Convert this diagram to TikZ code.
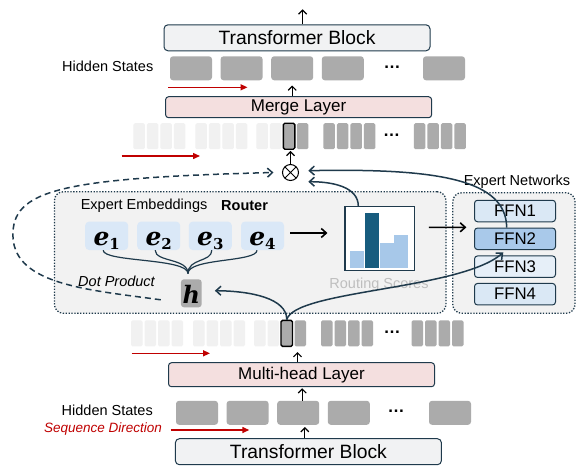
\RequirePackage{fix-cm}
\documentclass[tikz,border=0pt]{standalone}
\usepackage{amsmath,amssymb}
\usepackage{xcolor}
\usepackage[no-math]{fontspec}
\setmainfont{Liberation Sans}
\newfontfamily\embfont{DejaVu Serif}
\usetikzlibrary{shapes,arrows,positioning,calc,arrows.meta}

\definecolor{slate}{HTML}{1F3A4C}
\definecolor{blockgray}{HTML}{F1F2F3}
\definecolor{layerpink}{HTML}{F4DFDF}
\definecolor{stategray}{HTML}{ABABAB}
\definecolor{tokenlight}{HTML}{F1F1F1}
\definecolor{seqred}{HTML}{C00000}
\definecolor{embblue}{HTML}{DAE8F7}
\definecolor{ffnblue}{HTML}{DAE8F5}
\definecolor{ffnsel}{HTML}{A9C9EA}
\definecolor{ffnpale}{HTML}{E6EFF8}
\definecolor{barlight}{HTML}{A7C8E9}
\definecolor{bardark}{HTML}{175C7E}
\definecolor{panelgray}{HTML}{F2F2F2}
\definecolor{scoregray}{HTML}{BEBEBE}

\newcommand{\embvec}[2]{{\embfont\bfseries\itshape #1}\raisebox{-4.5pt}{\embfont\bfseries\fontsize{15}{15}\selectfont #2}}

\tikzset{
  block/.style={draw=slate, line width=1pt, rounded corners=4pt, fill=blockgray, minimum width=266pt, minimum height=26pt, inner sep=0pt, font=\fontsize{19.3}{22}\selectfont},
  layerbox/.style={draw=slate, line width=1pt, rounded corners=3pt, fill=layerpink, minimum width=266pt, minimum height=21pt, inner sep=0pt, font=\fontsize{17}{20}\selectfont},
  hstate/.style={fill=stategray, rounded corners=3pt, minimum width=42pt, minimum height=24pt, inner sep=0pt},
  token/.style={rounded corners=1.5pt, minimum width=11.5pt, minimum height=26pt, inner sep=0pt},
  seltok/.style={token, fill=stategray, draw=black, line width=1.4pt},
  lbl/.style={font=\fontsize{14.5}{17}\selectfont, inner sep=0pt},
  ellip/.style={font=\fontsize{17}{17}\selectfont\bfseries, inner sep=0pt},
  embed/.style={fill=embblue, rounded corners=4pt, minimum width=43pt, minimum height=28.5pt, inner sep=0pt, text height=20pt, text depth=1.5pt, font=\fontsize{25}{25}\selectfont},
  ffn/.style={draw=slate, line width=1pt, rounded corners=3pt, minimum width=81pt, minimum height=21.5pt, inner sep=0pt, font=\fontsize{16.8}{18}\selectfont},
  panel/.style={draw=slate, line width=1.3pt, dash pattern=on 1.3pt off 1.6pt, rounded corners=9pt, fill=panelgray, inner sep=0pt},
  up/.style={-{Straight Barb[length=4pt,width=8pt]}, line width=1.2pt},
  seq/.style={-{Triangle[length=7pt,width=6pt]}, seqred, line width=1.4pt},
  route/.style={-{Straight Barb[length=5pt,width=9pt]}, slate, line width=1.5pt},
  flow/.style={-{Straight Barb[length=5pt,width=9pt]}, line width=1.6pt},
}

\begin{document}
\begin{tikzpicture}[x=1pt, y=-1pt]
    \path[use as bounding box, fill=white] (0,0) rectangle (586,472);

    \node[panel, minimum width=391.6pt, minimum height=121.6pt] (router) at (250.2,252.5) {};
    \node[panel, minimum width=122.3pt, minimum height=120.6pt] (experts) at (513.9,253) {};

    \node[block] (topblock) at (297,37.8) {Transformer Block};
    \coordinate (out) at (302.6,9.3);
    \draw[up] (out |- topblock.north) -- (out);

    \node[lbl, anchor=east] (tophs) at (153.5,66) {Hidden States};
    \foreach \i in {0,1,2,3,5}
        \node[hstate] (ts\i) at (191+50.6*\i,68.3) {};
    \node[ellip] (tsdots) at (392,67) {\ldots};
    \draw[seq] (168,87.3) -- (247.5,87.3);

    \node[layerbox] (merge) at (298.6,107.2) {Merge Layer};
    \draw[up] (merge.north -| ts2) -- ([yshift=-5pt]ts2.south);

    \foreach \g/\gx in {0/131,1/193,2/254,3/321,4/411.5}
        \foreach \j in {0,...,3} {
            \pgfmathtruncatemacro\n{4*\g+\j}
            \ifnum\n<10 \def\tc{tokenlight}\else\def\tc{stategray}\fi
            \node[token, fill=\tc] (tt\n) at (\gx+5.75+13.5*\j+2.3,136.2) {};
            \node[token, fill=\tc] (bt\n) at (\gx+5.75+13.5*\j,333.3) {};
        }
    \node[seltok] (topsel) at (tt10) {};
    \node[seltok] (botsel) at (bt10) {};
    \node[ellip] (ttdots) at (391.7,135) {\ldots};
    \node[ellip] (btdots) at (392,332) {\ldots};
    \draw[seq] (121.7,156) -- (200,156);
    \draw[seq] (131.7,353.3) -- (210,353.3);

    \node[draw, circle, line width=1pt, minimum size=16pt, inner sep=0pt,
        path picture={\draw[line width=1pt] (path picture bounding box.north west) -- (path picture bounding box.south east)
            (path picture bounding box.north east) -- (path picture bounding box.south west);}] (mult) at (290.5,172.5) {};
    \draw[up, shorten >=1pt] (mult.north) -- (mult.north |- topsel.south);

    \node[lbl, anchor=west] (embl) at (80.6,206) {Expert Embeddings};
    \node[lbl, anchor=west, font=\fontsize{14.5}{17}\selectfont\bfseries] (routl) at (221,206) {Router};
    \foreach \i/\x in {1/106.7,2/158.7,3/210.3,4/262.5}
        \node[embed] (e\i) at (\x,235.8) {\embvec{e}{\i}};

    \node[fill=stategray, rounded corners=3pt, minimum width=20.7pt, minimum height=28pt, inner sep=0pt,
        text height=21pt, text depth=1pt, font=\fontsize{24}{24}\selectfont\embfont\bfseries\itshape] (h) at (191.3,293.3) {h};
    \coordinate (meet) at (188,273.5);
    \foreach \i/\dx in {1/-3.5,2/-3.5,3/1.5,4/-5.5}
        \draw[slate, line width=1.2pt] ([xshift=\dx pt]e\i.south) .. controls +(0,12) and (188,258) .. (meet);
    \node[lbl, font=\fontsize{14.5}{17}\selectfont\itshape] (dotl) at (116.5,281.7) {Dot Product};

    \node[draw=slate, line width=1.2pt, fill=white, minimum width=69.3pt, minimum height=64pt, inner sep=0pt] (chart) at (379.7,238.7) {};
    \foreach \x/\t/\c in {350/251/barlight,365/212.7/bardark,379.5/242.7/barlight,394.3/235/barlight}
        \fill[\c] (\x,\t) rectangle (\x+14,268.3);
    \node[lbl, text=scoregray] (scorel) at (379,285) {Routing Scores};

    \node[lbl] (expl) at (517,181.7) {Expert Networks};
    \foreach \i/\y/\c in {1/211/ffnblue,2/238.8/ffnsel,3/266.7/ffnpale,4/294.2/ffnblue}
        \node[ffn, fill=\c] (ffn\i) at (515,\y) {FFN\i};

    \draw[flow] ([xshift=6pt,yshift=2.8pt]e4.east) -- ([xshift=-17pt,yshift=5.7pt]chart.west);
    \draw[flow] ([xshift=14pt,yshift=11.3pt]chart.east) -- ([xshift=-7.6pt,yshift=11.5pt]ffn2.west);

    \draw[route] ([xshift=-21.4pt]chart.north) .. controls +(0,-19) and +(25,0) .. ([xshift=17.8pt,yshift=-9.2pt]mult.center);
    \draw[route] ([xshift=-8.3pt]ffn2.north) .. controls (506,180) and (440,168) .. ([xshift=17.8pt,yshift=1.8pt]mult.center);
    \draw[route] (botsel.north) .. controls (287,298) and (250,291) .. ([xshift=13pt,yshift=2.6pt]h.east);
    \draw[route] (botsel.north) .. controls (295,290) and (460,290) .. ([xshift=-11.7pt,yshift=-2.4pt]ffn2.south);
    \draw[route, dash pattern=on 6pt off 4pt] ([xshift=-20pt,yshift=-6.5pt]h.west) .. controls (90,290) and (15,285) .. (13,237)
        .. controls (11,190) and (60,178) .. ([xshift=-8.5pt]mult.west);

    \node[layerbox, minimum height=24pt] (multi) at (301.5,374.7) {Multi-head Layer};
    \draw[up, shorten >=5pt] ([xshift=-4pt]multi.north) -- ([xshift=-4pt]multi.north |- botsel.south);

    \node[lbl, anchor=east] (boths) at (153,410) {Hidden States};
    \foreach \i in {0,1,2,3,5}
        \node[hstate] (bs\i) at (197+50.6*\i,412.8) {};
    \node[ellip] (bsdots) at (396,411) {\ldots};
    \draw[up, shorten >=1pt] ([xshift=4pt]bs2.north) -- ([xshift=4pt]bs2.north |- multi.south);

    \node[lbl, text=seqred, font=\fontsize{13.5}{16}\selectfont\itshape] (seql) at (103,429) {Sequence Direction};
    \draw[seq] (170.6,430) -- (249.3,430);

    \node[block] (botblock) at (308.4,451.7) {Transformer Block};
    \draw[up, shorten >=2pt] ([xshift=-3.6pt]botblock.north) -- ([xshift=-3.6pt]botblock.north |- bs2.south);
\end{tikzpicture}
\end{document}
